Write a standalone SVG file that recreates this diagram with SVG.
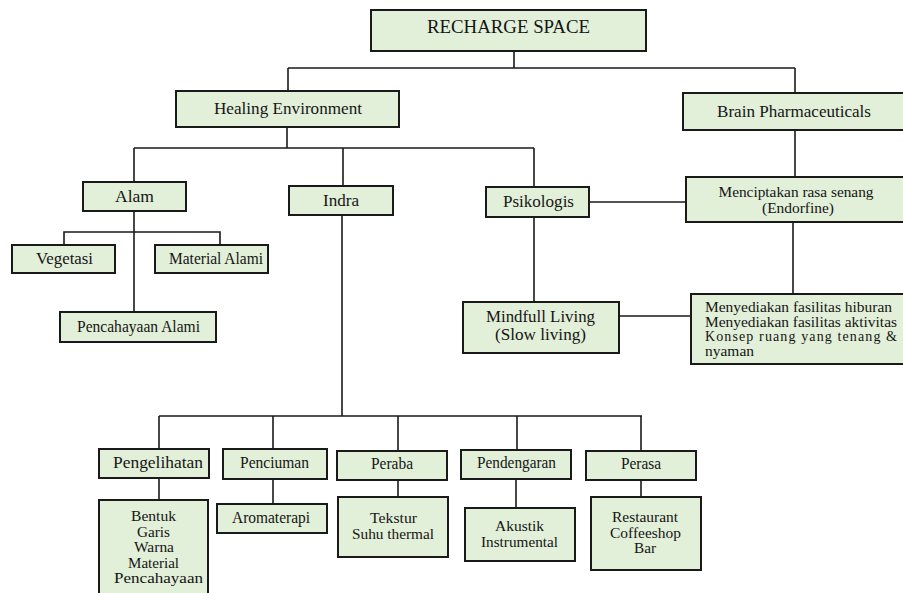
<svg xmlns="http://www.w3.org/2000/svg" width="903" height="593" viewBox="0 0 903 593">
<style>
.box{fill:#e2efd9;stroke:#1a1a1a;stroke-width:2}
.t{font-family:"Liberation Serif","Times New Roman",serif;font-size:17px;fill:#151515;text-anchor:middle}
.big{font-size:18px}
.ml{font-size:15px}
.ms{font-size:14px}
.l{text-anchor:start}
#connectors line,#connectors polyline{stroke:#1a1a1a;stroke-width:1.6;fill:none}
</style>
<rect width="903" height="593" fill="#ffffff"/>
<g id="connectors">
<line x1="514" y1="51" x2="514" y2="68"/>
<line x1="288" y1="68" x2="795" y2="68"/>
<line x1="288" y1="68" x2="288" y2="91"/>
<line x1="795" y1="68" x2="795" y2="93"/>
<line x1="287" y1="127" x2="287" y2="148"/>
<line x1="134" y1="148" x2="534" y2="148"/>
<line x1="134" y1="148" x2="134" y2="182"/>
<line x1="343" y1="148" x2="343" y2="186"/>
<line x1="534" y1="148" x2="534" y2="187"/>
<line x1="795" y1="130" x2="795" y2="177"/>
<line x1="589" y1="202" x2="686" y2="202"/>
<line x1="793" y1="222" x2="793" y2="294"/>
<line x1="534" y1="217" x2="534" y2="302"/>
<line x1="619" y1="316" x2="691" y2="316"/>
<line x1="134" y1="211" x2="134" y2="312"/>
<polyline points="64,245 64,232 220,232 220,245"/>
<line x1="342" y1="215" x2="342" y2="416"/>
<line x1="159" y1="416" x2="642" y2="416"/>
<line x1="159" y1="416" x2="159" y2="449"/>
<line x1="273" y1="416" x2="273" y2="449"/>
<line x1="398" y1="416" x2="398" y2="451"/>
<line x1="517" y1="416" x2="517" y2="450"/>
<line x1="641" y1="416" x2="641" y2="451"/>
<line x1="159" y1="478" x2="159" y2="500"/>
<line x1="273" y1="479" x2="273" y2="504"/>
<line x1="398" y1="480" x2="398" y2="497"/>
<line x1="516" y1="479" x2="516" y2="508"/>
<line x1="641" y1="480" x2="641" y2="497"/>
</g>
<g id="recharge"><rect class="box" x="371" y="10" width="275" height="41"/><text class="t big" x="508.5" y="33" textLength="163" lengthAdjust="spacingAndGlyphs">RECHARGE SPACE</text></g>
<g id="healing"><rect class="box" x="176" y="91" width="223" height="36"/><text class="t" x="288" y="114" textLength="148" lengthAdjust="spacingAndGlyphs">Healing Environment</text></g>
<g id="brain"><rect class="box" x="683" y="93" width="230" height="37"/><text class="t" x="794" y="117" textLength="154" lengthAdjust="spacingAndGlyphs">Brain Pharmaceuticals</text></g>
<g id="alam"><rect class="box" x="83" y="182" width="103" height="29"/><text class="t" x="134.5" y="202" textLength="39" lengthAdjust="spacingAndGlyphs">Alam</text></g>
<g id="indra"><rect class="box" x="289" y="186" width="104" height="29"/><text class="t" x="341" y="206" textLength="36" lengthAdjust="spacingAndGlyphs">Indra</text></g>
<g id="psikologis"><rect class="box" x="486" y="187" width="103" height="30"/><text class="t" x="538.5" y="207" textLength="71" lengthAdjust="spacingAndGlyphs">Psikologis</text></g>
<g id="endorfine"><rect class="box" x="686" y="177" width="230" height="45"/><text class="t ml" x="796" y="197" textLength="155" lengthAdjust="spacingAndGlyphs">Menciptakan rasa senang</text><text class="t ml" x="798" y="213" textLength="72" lengthAdjust="spacingAndGlyphs">(Endorfine)</text></g>
<g id="vegetasi"><rect class="box" x="12" y="245" width="103" height="28"/><text class="t" x="64.5" y="264" textLength="57" lengthAdjust="spacingAndGlyphs">Vegetasi</text></g>
<g id="material-alami"><rect class="box" x="155" y="245" width="113" height="28"/><text class="t" x="216" y="264" textLength="94" lengthAdjust="spacingAndGlyphs">Material Alami</text></g>
<g id="pencahayaan-alami"><rect class="box" x="60" y="312" width="156" height="30"/><text class="t" x="138.5" y="332" textLength="123" lengthAdjust="spacingAndGlyphs">Pencahayaan Alami</text></g>
<g id="mindfull"><rect class="box" x="463" y="302" width="156" height="51"/><text class="t" x="540.5" y="322" textLength="109" lengthAdjust="spacingAndGlyphs">Mindfull Living</text><text class="t" x="540.5" y="340" textLength="91" lengthAdjust="spacingAndGlyphs">(Slow living)</text></g>
<g id="fasilitas"><rect class="box" x="691" y="294" width="230" height="70"/><text class="t ms l" x="705" y="312" textLength="187" lengthAdjust="spacingAndGlyphs">Menyediakan fasilitas hiburan</text><text class="t ms l" x="705" y="327" textLength="192" lengthAdjust="spacingAndGlyphs">Menyediakan fasilitas aktivitas</text><text class="t ms l" x="705" y="341" textLength="192" lengthAdjust="spacing">Konsep ruang yang tenang &amp;</text><text class="t ms l" x="705" y="356" textLength="49" lengthAdjust="spacingAndGlyphs">nyaman</text></g>
<g id="pengelihatan"><rect class="box" x="99" y="449" width="110" height="29"/><text class="t" x="158" y="468" textLength="90" lengthAdjust="spacingAndGlyphs">Pengelihatan</text></g>
<g id="penciuman"><rect class="box" x="223" y="449" width="104" height="30"/><text class="t" x="274.5" y="468" textLength="69" lengthAdjust="spacingAndGlyphs">Penciuman</text></g>
<g id="peraba"><rect class="box" x="337" y="451" width="110" height="29"/><text class="t" x="392" y="469" textLength="42" lengthAdjust="spacingAndGlyphs">Peraba</text></g>
<g id="pendengaran"><rect class="box" x="461" y="450" width="110" height="29"/><text class="t" x="516.5" y="468" textLength="79" lengthAdjust="spacingAndGlyphs">Pendengaran</text></g>
<g id="perasa"><rect class="box" x="586" y="451" width="110" height="29"/><text class="t" x="641" y="469" textLength="40" lengthAdjust="spacingAndGlyphs">Perasa</text></g>
<g id="bentuk"><rect class="box" x="99" y="500" width="109" height="100"/><text class="t ml" x="153.5" y="521" textLength="45" lengthAdjust="spacingAndGlyphs">Bentuk</text><text class="t ml" x="153.5" y="537" textLength="33" lengthAdjust="spacingAndGlyphs">Garis</text><text class="t ml" x="154" y="552" textLength="40" lengthAdjust="spacingAndGlyphs">Warna</text><text class="t ml" x="153.5" y="568" textLength="51" lengthAdjust="spacingAndGlyphs">Material</text><text class="t ml" x="158.5" y="583" textLength="89" lengthAdjust="spacingAndGlyphs">Pencahayaan</text></g>
<g id="aromaterapi"><rect class="box" x="217" y="504" width="110" height="29"/><text class="t" x="271" y="523" textLength="78" lengthAdjust="spacingAndGlyphs">Aromaterapi</text></g>
<g id="tekstur"><rect class="box" x="338" y="497" width="110" height="60"/><text class="t ml" x="393.5" y="523" textLength="47" lengthAdjust="spacingAndGlyphs">Tekstur</text><text class="t ml" x="393" y="539" textLength="82" lengthAdjust="spacingAndGlyphs">Suhu thermal</text></g>
<g id="akustik"><rect class="box" x="465" y="508" width="110" height="53"/><text class="t ml" x="519.5" y="531" textLength="49" lengthAdjust="spacingAndGlyphs">Akustik</text><text class="t ml" x="519.5" y="547" textLength="77" lengthAdjust="spacingAndGlyphs">Instrumental</text></g>
<g id="restaurant"><rect class="box" x="591" y="497" width="110" height="73"/><text class="t ml" x="645" y="522" textLength="66" lengthAdjust="spacingAndGlyphs">Restaurant</text><text class="t ml" x="645.5" y="538" textLength="71" lengthAdjust="spacingAndGlyphs">Coffeeshop</text><text class="t ml" x="645" y="553" textLength="22" lengthAdjust="spacingAndGlyphs">Bar</text></g>
</svg>
